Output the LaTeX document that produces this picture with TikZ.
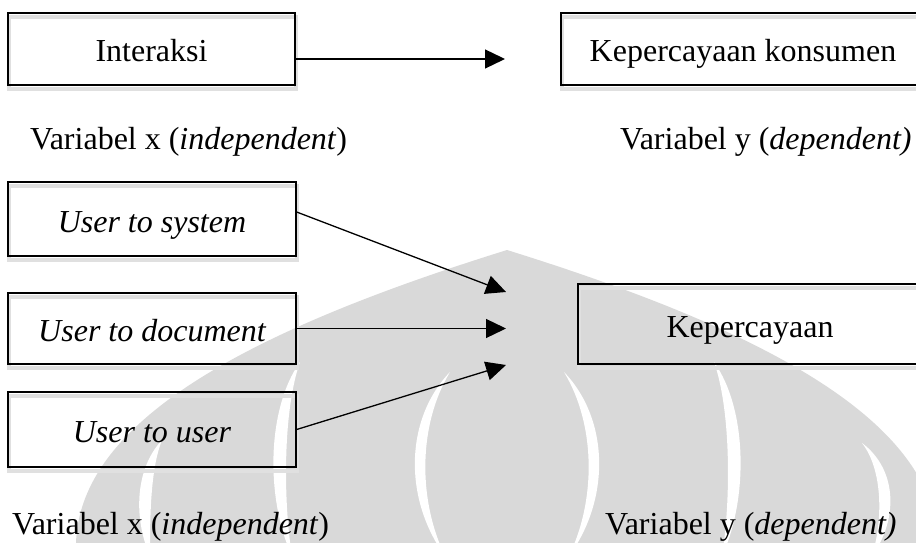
\documentclass[tikz,border=0pt]{standalone}
\usepackage{fontspec}
\setmainfont{Liberation Serif}
\usetikzlibrary{arrows.meta,calc}
\definecolor{wmgray}{RGB}{217,217,217}
\begin{document}
\begin{tikzpicture}[x=1pt,y=-1pt,
  bigfont/.style={font=\fontsize{32}{38}\selectfont},
  box/.style={draw=black, line width=1.3pt, inner sep=0pt, bigfont,
    text height=30pt, text depth=4pt,
    preaction={draw=black!12, line width=4pt, transform canvas={shift={(1pt,-4pt)}}}},
  itbox/.style={box, font=\fontsize{32}{38}\selectfont\itshape},
  lbl/.style={inner sep=0pt, anchor=base west, bigfont},
  conn/.style={line width=1.3pt, -{Triangle[length=20pt,width=19pt]}}
]
\path[use as bounding box, clip] (0,0) rectangle (916,543);

% watermark
\fill[wmgray] (76,543) .. controls (80,420) and (250,330) .. (507,250)
  .. controls (764,330) and (934,420) .. (938,543) -- cycle;
\fill[white] (450,372) .. controls (404,420) and (404,500) .. (445,556)
  .. controls (418,500) and (418,425) .. (450,372);
\fill[white] (564,372) .. controls (610,420) and (610,500) .. (569,556)
  .. controls (596,500) and (596,425) .. (564,372);
\fill[white] (300,362) .. controls (266,410) and (266,500) .. (292,556)
  .. controls (283,500) and (283,410) .. (300,362);
\fill[white] (714,362) .. controls (748,410) and (748,500) .. (722,556)
  .. controls (731,500) and (731,410) .. (714,362);
\fill[white] (162,440) .. controls (134,470) and (134,520) .. (150,556)
  .. controls (150,520) and (150,470) .. (162,440);
\fill[white] (862,443) .. controls (898,470) and (898,520) .. (872,556)
  .. controls (883,520) and (883,470) .. (862,443);

% top part
\node[box, minimum width=287pt, minimum height=72pt] (inter) at (151.5,49) {Interaksi};
\node[box, minimum width=364pt, minimum height=72pt] (kons) at (743,49) {Kepercayaan konsumen};
\coordinate (t1) at (505,59);
\draw[conn] (inter.east |- t1) -- (t1);
\node[lbl] (vx1) at (30,149) {Variabel x (\textit{independent})};
\node[lbl] (vy1) at (620,149) {Variabel y (\textit{dependent)}};

% bottom part
\node[itbox, minimum width=288pt, minimum height=74pt] (sys) at (152,219) {User to system};
\node[itbox, minimum width=288pt, minimum height=71pt] (doc) at (152,328.5) {User to document};
\node[itbox, minimum width=288pt, minimum height=75pt] (usr) at (152,429.5) {User to user};
\node[box, minimum width=344pt, minimum height=80pt] (kep) at (750,324) {Kepercayaan};
\coordinate (t2) at (506,292);
\coordinate (t3) at (506,328.5);
\coordinate (t4) at (506,365);
\draw[conn] ($(sys.east)+(0,-7)$) -- (t2);
\draw[conn] (doc.east) -- (t3);
\draw[conn] (usr.east) -- (t4);
\node[lbl] (vx2) at (12,534) {Variabel x (\textit{independent})};
\node[lbl] (vy2) at (605,534) {Variabel y (\textit{dependent)}};
\end{tikzpicture}
\end{document}
